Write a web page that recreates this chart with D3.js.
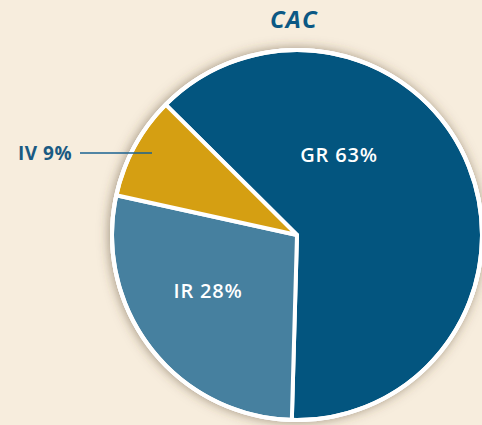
<!DOCTYPE html>
<html><head><meta charset="utf-8">
<script src="https://cdn.jsdelivr.net/npm/d3@7"></script>
<style>
html,body{margin:0;padding:0;background:#f7eddd;}
svg{display:block;}
</style></head>
<body>
<svg id="chart" width="482" height="425"></svg>
<script>
const title = "CAC";
const categories = ["GR", "IR", "IV"];
const values = [63, 28, 9];
const colors = ["#03557f", "#46809f", "#d59f12"];
const startAngleDeg = -45.2;

const svg = d3.select("#chart");
const cx = 297, cy = 235, R = 185;
const FONT = "'Open Sans', Lato, sans-serif";

const defs = svg.append("defs");
const f = defs.append("filter").attr("id","sh").attr("x","-20%").attr("y","-20%").attr("width","140%").attr("height","140%");
f.append("feDropShadow").attr("dx",-1).attr("dy",0).attr("stdDeviation",6)
 .attr("flood-color","#5a4630").attr("flood-opacity",0.55);

svg.append("text").attr("x",294).attr("y",28).attr("text-anchor","middle")
  .attr("font-family",FONT).attr("font-weight",700)
  .attr("font-style","italic").attr("font-size",24).attr("letter-spacing",1.2)
  .attr("fill","#0b5884").text(title);

const data = categories.map((c,i)=>({cat:c, value:values[i], color:colors[i]}));
const start = startAngleDeg*Math.PI/180;
const pie = d3.pie().value(d=>d.value).sort(null).startAngle(start).endAngle(start+2*Math.PI);
const arcs = pie(data);
const arc = d3.arc().innerRadius(0).outerRadius(R);

const g = svg.append("g").attr("transform",`translate(${cx},${cy})`);
g.append("circle").attr("r",R+2).attr("fill","#fff").attr("filter","url(#sh)");
g.selectAll("path.slice").data(arcs).join("path").attr("class","slice")
  .attr("d",arc).attr("fill",d=>d.data.color)
  .attr("stroke","#fff").attr("stroke-width",4).attr("stroke-linejoin","round");
g.append("circle").attr("r",R).attr("fill","none").attr("stroke","#fff").attr("stroke-width",4);

const labelPos = {GR:[42,-80.5], IR:[-89,55.5]};
arcs.forEach(d=>{
  const txt = `${d.data.cat} ${d.data.value}%`;
  if (labelPos[d.data.cat]) {
    const p = labelPos[d.data.cat];
    g.append("text").attr("x",p[0]).attr("y",p[1]).attr("text-anchor","middle")
      .attr("dy","0.36em").attr("font-family",FONT).attr("letter-spacing",0.8)
      .attr("font-weight",600).attr("font-size",20).attr("fill","#fff").text(txt);
  } else {
    svg.append("line").attr("x1",80).attr("x2",152).attr("y1",153).attr("y2",153)
      .attr("stroke","#1a6290").attr("stroke-width",1.5);
    svg.append("text").attr("x",72).attr("y",153).attr("text-anchor","end")
      .attr("dy","0.36em").attr("font-family",FONT).attr("letter-spacing",0.5)
      .attr("font-weight",700).attr("font-size",19).attr("fill","#1a5a82").text(txt);
  }
});
</script>
</body></html>
